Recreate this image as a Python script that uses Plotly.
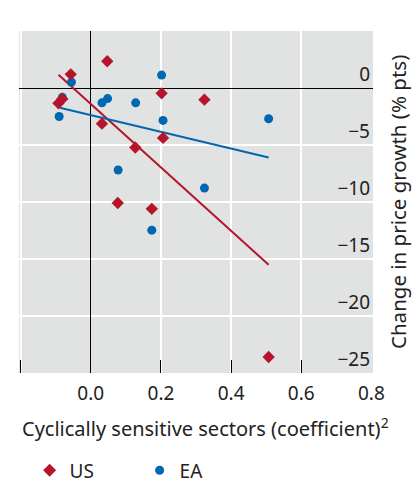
import plotly.graph_objects as go

# US (diamonds)
us_x = [-0.057, 0.047, -0.081, -0.092, 0.202, 0.324, 0.032, 0.206, 0.127, 0.077, 0.174, 0.507]
us_y = [1.2, 2.35, -0.96, -1.34, -0.47, -1.02, -3.13, -4.38, -5.22, -10.09, -10.6, -23.6]

# EA (circles)
ea_x = [0.202, -0.055, -0.081, -0.090, 0.032, 0.048, 0.128, 0.206, 0.507, 0.078, 0.324, 0.174]
ea_y = [1.13, 0.52, -0.82, -2.5, -1.3, -0.93, -1.3, -2.84, -2.7, -7.19, -8.78, -12.47]

# fitted lines (endpoints)
us_fit_x = [-0.092, 0.507]
us_fit_y = [1.16, -15.5]
ea_fit_x = [-0.088, 0.507]
ea_fit_y = [-1.74, -6.09]

x_ticks = [-0.2, 0.0, 0.2, 0.4, 0.6, 0.8]
x_labels = ["", "0.0", "0.2", "0.4", "0.6", ""]
last_x_tick = 0.8
last_x_label = "0.8"   # plotly drops the label at the edge, so it is added as an annotation
y_ticks = [-25, -20, -15, -10, -5, 0]

red = "#b5152b"
blue = "#0067b1"
font = "Noto Sans"
txt = "#222222"

fig = go.Figure()
fig.add_trace(go.Scatter(x=us_fit_x, y=us_fit_y, mode="lines", line=dict(color=red, width=2),
                         showlegend=False, hoverinfo="skip"))
fig.add_trace(go.Scatter(x=ea_fit_x, y=ea_fit_y, mode="lines", line=dict(color=blue, width=2),
                         showlegend=False, hoverinfo="skip"))
fig.add_trace(go.Scatter(x=ea_x, y=ea_y, mode="markers", name="EA", showlegend=False,
                         marker=dict(symbol="circle", size=9, color=blue)))
fig.add_trace(go.Scatter(x=us_x, y=us_y, mode="markers", name="US", showlegend=False,
                         marker=dict(symbol="diamond", size=9.5, color=red)))
# legend-only entries
fig.add_trace(go.Scatter(x=[None], y=[None], mode="markers", name="US",
                         marker=dict(symbol="diamond", size=10, color=red)))
fig.add_trace(go.Scatter(x=[None], y=[None], mode="markers", name="EA",
                         marker=dict(symbol="circle", size=9, color=blue)))

fig.update_layout(
    width=417, height=485,
    margin=dict(l=19, r=44, t=31, b=112),
    paper_bgcolor="white", plot_bgcolor="#e1e2e2",
    font=dict(family=font, size=19, color=txt),
    legend=dict(orientation="h", x=0.03, xanchor="left",
                yref="container", y=0.03, yanchor="middle",
                font=dict(family=font, size=19, color=txt), itemwidth=30, entrywidth=65),
    showlegend=True,
    annotations=[
        dict(text="Change in price growth (% pts)", textangle=-90,
             xref="paper", yref="paper", x=1.0, xshift=25, xanchor="center",
             y=0.5, yanchor="middle", showarrow=False,
             font=dict(family=font, size=20.5, color=txt)),
        dict(text="Cyclically sensitive sectors (coefficient)<sup>2</sup>",
             xref="paper", yref="paper", x=0.5, xshift=9, xanchor="center",
             y=0, yshift=-54, yanchor="middle", showarrow=False,
             font=dict(family=font, size=20, color=txt)),
        dict(text=last_x_label, xref="x", yref="paper", x=last_x_tick, y=0,
             yshift=-20, xanchor="center", yanchor="middle", showarrow=False,
             font=dict(family=font, size=19, color=txt)),
    ],
)
fig.update_xaxes(
    range=[-0.2045, 0.8045], tickvals=x_ticks, ticktext=x_labels,
    ticks="inside", ticklen=13, tickcolor="black", tickwidth=1,
    showgrid=True, gridcolor="white", gridwidth=1.5,
    zeroline=True, zerolinecolor="black", zerolinewidth=1,
    showline=False, ticklabelstandoff=7, automargin=False,
    tickfont=dict(family=font, size=19, color=txt),
)
fig.update_yaxes(
    range=[-25, 5], tickvals=y_ticks, side="right",
    ticklabelposition="inside top", ticks="",
    showgrid=True, gridcolor="white", gridwidth=1.5,
    zeroline=True, zerolinecolor="black", zerolinewidth=1,
    showline=False, automargin=False,
    tickfont=dict(family=font, size=19, color=txt),
)

fig.write_html("out.html", config={"displayModeBar": False},
               post_script="document.body.style.margin='0';")
